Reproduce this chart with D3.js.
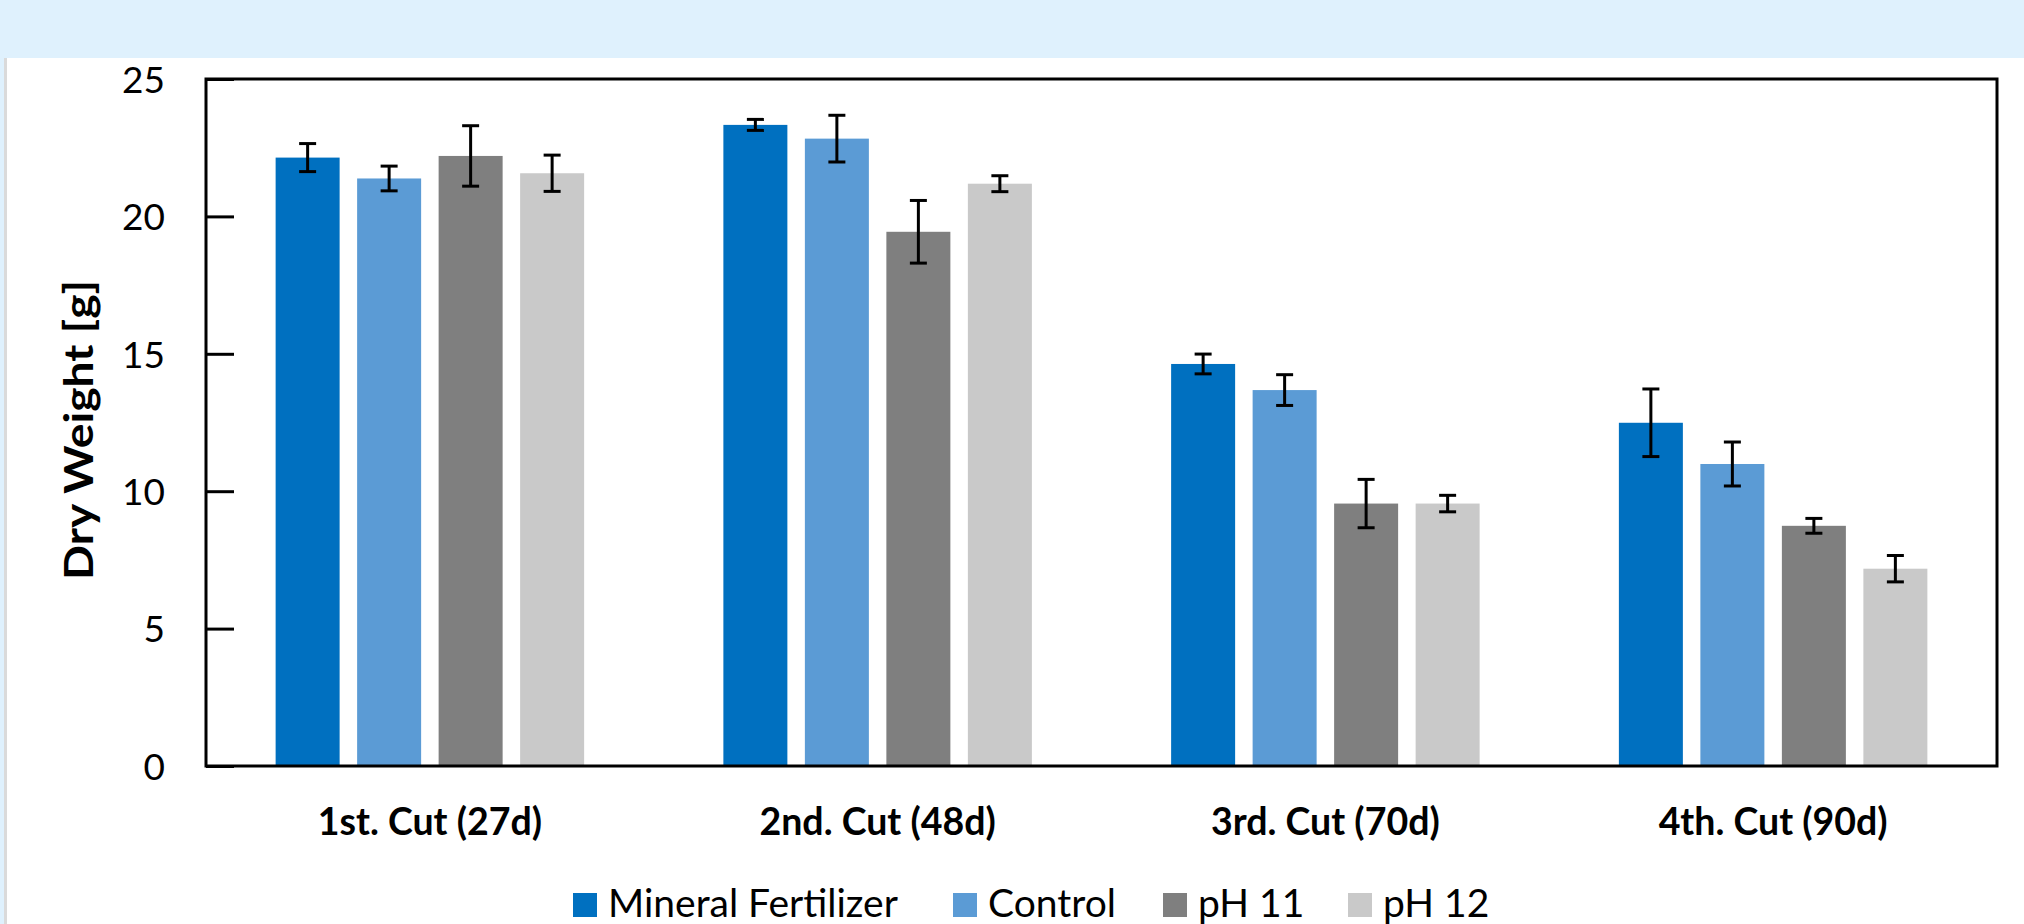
<!DOCTYPE html>
<html>
<head>
<meta charset="utf-8">
<script src="https://cdn.jsdelivr.net/npm/d3@7"></script>
<style>
  html, body { margin: 0; padding: 0; background: #ffffff; }
  svg { display: block; }
  text { font-family: Lato, "Open Sans", sans-serif; fill: #000; }
</style>
</head>
<body>
<svg id="chart" width="2024" height="924"></svg>
<script>
// ---- data ----
const categories = ["1st. Cut (27d)", "2nd. Cut (48d)", "3rd. Cut (70d)", "4th. Cut (90d)"];
const seriesNames = ["Mineral Fertilizer", "Control", "pH 11", "pH 12"];
const mineralFertilizer = [22.14, 23.33, 14.63, 12.49];
const mineralFertilizerErr = [0.51, 0.20, 0.36, 1.23];
const control = [21.38, 22.83, 13.68, 10.99];
const controlErr = [0.45, 0.85, 0.56, 0.80];
const ph11 = [22.20, 19.44, 9.55, 8.74];
const ph11Err = [1.10, 1.14, 0.88, 0.27];
const ph12 = [21.57, 21.19, 9.55, 7.18];
const ph12Err = [0.66, 0.29, 0.30, 0.48];
const yTicks = [0, 5, 10, 15, 20, 25];
const yTitle = "Dry Weight [g]";
const colors = ["#0070C0", "#5B9BD5", "#7F7F7F", "#C9C9C9"];

const seriesValues = [mineralFertilizer, control, ph11, ph12];
const seriesErrs = [mineralFertilizerErr, controlErr, ph11Err, ph12Err];

const svg = d3.select("#chart");
const W = 2024, H = 924;

// background decorations
svg.append("rect").attr("x", 0).attr("y", 0).attr("width", W).attr("height", 58).attr("fill", "#DFF1FD");
svg.append("rect").attr("x", 0).attr("y", 58).attr("width", 4).attr("height", H - 58).attr("fill", "#DFF1FD");
svg.append("rect").attr("x", 4).attr("y", 58).attr("width", 3).attr("height", H - 58).attr("fill", "#DADADA");

const plot = { left: 206, right: 1997, top: 79, bottom: 766 };

const x0 = d3.scaleBand().domain(categories).range([plot.left, plot.right]).padding(0);
const groupWidth = 308.5;
const x1 = d3.scaleBand().domain(seriesNames).range([0, groupWidth]).paddingInner(17.5 / 81.5).paddingOuter(0);
const y = d3.scaleLinear().domain([0, 25]).range([plot.bottom, plot.top]);

// bars
const data = [];
categories.forEach((c, i) => {
  seriesNames.forEach((s, j) => {
    data.push({ cat: c, series: s, value: seriesValues[j][i], err: seriesErrs[j][i], color: colors[j] });
  });
});
const gx = d => x0(d.cat) + x0.bandwidth() / 2 - groupWidth / 2 + x1(d.series);

svg.append("g").selectAll("rect").data(data).join("rect")
  .attr("x", d => gx(d))
  .attr("y", d => y(d.value))
  .attr("width", x1.bandwidth())
  .attr("height", d => y(0) - y(d.value))
  .attr("fill", d => d.color);

// error bars
const eb = svg.append("g").attr("stroke", "#000").attr("stroke-width", 3);
data.forEach(d => {
  const cx = gx(d) + x1.bandwidth() / 2;
  eb.append("line").attr("x1", cx).attr("x2", cx).attr("y1", y(d.value + d.err)).attr("y2", y(d.value - d.err));
  eb.append("line").attr("x1", cx - 8.5).attr("x2", cx + 8.5).attr("y1", y(d.value + d.err)).attr("y2", y(d.value + d.err));
  eb.append("line").attr("x1", cx - 8.5).attr("x2", cx + 8.5).attr("y1", y(d.value - d.err)).attr("y2", y(d.value - d.err));
});

// y axis (inner ticks)
const yAxis = d3.axisLeft(y).tickValues(yTicks).tickSize(-28).tickPadding(41);
const ga = svg.append("g").attr("transform", `translate(${plot.left},0)`).call(yAxis);
ga.select(".domain").remove();
ga.selectAll(".tick line").attr("stroke", "#000").attr("stroke-width", 3);
ga.selectAll(".tick text").attr("font-size", 37).attr("font-family", "Lato, 'Open Sans', sans-serif").attr("fill", "#000").attr("dy", "0.36em");

// plot border
svg.append("rect").attr("x", plot.left).attr("y", plot.top)
  .attr("width", plot.right - plot.left).attr("height", plot.bottom - plot.top)
  .attr("fill", "none").attr("stroke", "#000").attr("stroke-width", 3);

// category labels
svg.append("g").selectAll("text").data(categories).join("text")
  .attr("x", d => x0(d) + x0.bandwidth() / 2)
  .attr("y", 835)
  .attr("text-anchor", "middle")
  .attr("font-size", 37.5)
  .attr("font-weight", "bold")
  .text(d => d);

// y title
svg.append("text")
  .attr("transform", "translate(93,430) rotate(-90)")
  .attr("text-anchor", "middle")
  .attr("font-size", 40)
  .attr("font-weight", "bold")
  .attr("textLength", 300)
  .attr("lengthAdjust", "spacingAndGlyphs")
  .text(yTitle);

// legend
const legendX = [573, 953, 1163, 1348];
const lg = svg.append("g");
seriesNames.forEach((s, j) => {
  lg.append("rect").attr("x", legendX[j]).attr("y", 893).attr("width", 24).attr("height", 24).attr("fill", colors[j]);
  lg.append("text").attr("x", legendX[j] + 35).attr("y", 917).attr("font-size", 39).text(s);
});
</script>
</body>
</html>
